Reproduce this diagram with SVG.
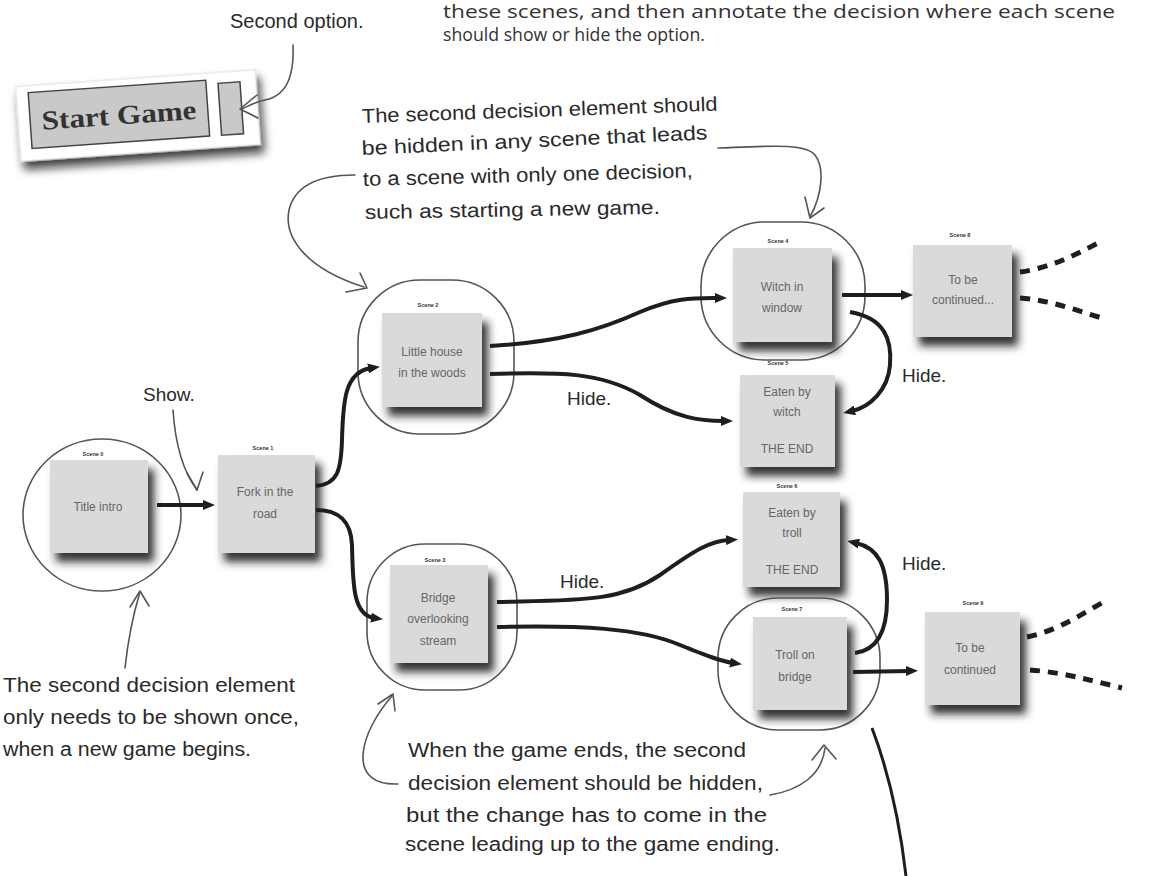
<svg xmlns="http://www.w3.org/2000/svg" width="1153" height="876" viewBox="0 0 1153 876">
<style>
.hand{font-family:"Liberation Sans","DejaVu Sans",sans-serif;fill:#2a2a2a;font-size:20px}
.hide{font-family:"Liberation Sans","DejaVu Sans",sans-serif;fill:#2a2a2a;font-size:19px}
.body{font-family:"Open Sans","Liberation Sans",sans-serif;fill:#333;font-size:18px}
.card{fill:#dadada;filter:url(#sh)}
.ctext{font-family:"Liberation Sans",sans-serif;fill:#666;font-size:12px;text-anchor:middle}
.lbl{font-family:"Liberation Sans",sans-serif;fill:#333;font-size:5.5px;font-weight:bold;text-anchor:middle}
.ring{fill:none;stroke:#555;stroke-width:1.6}
.conn{fill:none;stroke:#1e1e1e;stroke-width:4;marker-end:url(#ah)}
.dash{fill:none;stroke:#1e1e1e;stroke-width:5;stroke-dasharray:10 8}
.note{fill:none;stroke:#555;stroke-width:1.6;stroke-linecap:round;stroke-linejoin:round}
</style>
<defs>
<filter id="sh" x="-20%" y="-20%" width="150%" height="160%">
<feDropShadow dx="6" dy="9" stdDeviation="4.5" flood-color="#1a1a1a" flood-opacity="0.9"/>
</filter>
<filter id="psh" x="-20%" y="-30%" width="140%" height="180%">
<feDropShadow dx="3" dy="8" stdDeviation="5" flood-color="#111" flood-opacity="0.8"/>
</filter>
<marker id="ah" viewBox="0 0 12 10" refX="3" refY="5" markerWidth="12" markerHeight="10" markerUnits="userSpaceOnUse" orient="auto">
<path d="M0,0 L12,5 L0,10 z" fill="#1e1e1e"/>
</marker>
</defs>
<rect width="1153" height="876" fill="#fff"/>

<g id="intro-text">
<text class="body" x="443" y="18" textLength="672" lengthAdjust="spacingAndGlyphs">these scenes, and then annotate the decision where each scene</text>
<text class="body" x="443" y="41" textLength="262" lengthAdjust="spacingAndGlyphs">should show or hide the option.</text>
</g>

<g id="start-game-panel">
<g transform="rotate(-4 138 115)">
<rect x="18" y="78" width="240" height="75" fill="#fff" stroke="#ddd" stroke-width="1" filter="url(#psh)"/>
<rect x="30" y="85" width="178" height="56" fill="#c9c9c9" stroke="#444" stroke-width="1.5"/>
<rect x="220" y="89" width="22" height="52" fill="#c9c9c9" stroke="#444" stroke-width="1.5"/>
<text x="119" y="123" font-family="Liberation Serif,serif" font-weight="bold" font-size="27" fill="#333" text-anchor="middle" textLength="155" lengthAdjust="spacingAndGlyphs">Start Game</text>
</g>
<text class="hand" x="230" y="28" font-size="17">Second option.</text>
</g>

<g id="scene0">
<ellipse class="ring" cx="102" cy="515" rx="79" ry="76"/>
<rect class="card" x="50" y="460" width="98" height="93"/>
<text class="lbl" x="93" y="456">Scene 0</text>
<text class="ctext" x="98" y="511">Title intro</text>
</g>
<g id="scene1">
<rect class="card" x="218" y="455" width="97" height="98"/>
<text class="lbl" x="263" y="450">Scene 1</text>
<text class="ctext" x="265" y="496">Fork in the</text>
<text class="ctext" x="265" y="518">road</text>
</g>
<g id="scene2">
<rect class="ring" x="358" y="280" width="156" height="154" rx="62"/>
<rect class="card" x="382" y="313" width="100" height="94"/>
<text class="lbl" x="428" y="307">Scene 2</text>
<text class="ctext" x="432" y="356">Little house</text>
<text class="ctext" x="432" y="377">in the woods</text>
</g>
<g id="scene3">
<rect class="ring" x="367" y="544" width="150" height="146" rx="58"/>
<rect class="card" x="390" y="565" width="98" height="98"/>
<text class="lbl" x="435" y="562">Scene 3</text>
<text class="ctext" x="438" y="602">Bridge</text>
<text class="ctext" x="438" y="623">overlooking</text>
<text class="ctext" x="438" y="645">stream</text>
</g>
<g id="scene4">
<rect class="ring" x="701" y="222" width="164" height="138" rx="64"/>
<rect class="card" x="733" y="248" width="99" height="94"/>
<text class="lbl" x="778" y="243">Scene 4</text>
<text class="ctext" x="782" y="291">Witch in</text>
<text class="ctext" x="782" y="312">window</text>
</g>
<g id="scene5">
<rect class="card" x="740" y="375" width="95" height="92"/>
<text class="lbl" x="778" y="365">Scene 5</text>
<text class="ctext" x="787" y="396">Eaten by</text>
<text class="ctext" x="787" y="416">witch</text>
<text class="ctext" x="787" y="453">THE END</text>
</g>
<g id="scene6">
<rect class="card" x="743" y="492" width="97" height="95"/>
<text class="lbl" x="787" y="488">Scene 6</text>
<text class="ctext" x="792" y="517">Eaten by</text>
<text class="ctext" x="792" y="537">troll</text>
<text class="ctext" x="792" y="574">THE END</text>
</g>
<g id="scene7">
<rect class="ring" x="718" y="598" width="162" height="132" rx="60"/>
<rect class="card" x="753" y="617" width="94" height="93"/>
<text class="lbl" x="792" y="611">Scene 7</text>
<text class="ctext" x="795" y="659">Troll on</text>
<text class="ctext" x="795" y="681">bridge</text>
</g>
<g id="scene8">
<rect class="card" x="913" y="245" width="99" height="92"/>
<text class="lbl" x="960" y="237">Scene 8</text>
<text class="ctext" x="963" y="284">To be</text>
<text class="ctext" x="963" y="304">continued...</text>
</g>
<g id="scene9">
<rect class="card" x="925" y="612" width="95" height="93"/>
<text class="lbl" x="973" y="605">Scene 9</text>
<text class="ctext" x="970" y="652">To be</text>
<text class="ctext" x="970" y="674">continued</text>
</g>

<g id="connectors">
<path class="conn" d="M157,505 L206,505"/>
<path class="conn" d="M316,486 C338,484 341,470 342,440 C343,400 345,372 371,368"/>
<path class="conn" d="M316,510 C340,510 351,522 352,545 C353,580 352,615 374,618"/>
<path class="conn" d="M490,346 C560,342 600,330 640,312 C675,297 695,298 718,298"/>
<path class="conn" d="M490,374 C560,372 600,372 640,395 C675,418 700,421 724,421"/>
<path class="conn" d="M842,295 L904,295"/>
<path class="conn" d="M850,312 C885,318 892,340 890,365 C888,390 870,407 852,411"/>
<path class="conn" d="M497,602 C580,600 620,602 660,575 C695,550 710,541 729,540"/>
<path class="conn" d="M497,627 C580,625 640,628 680,645 C705,655 720,661 733,663"/>
<path class="conn" d="M853,672 L909,671"/>
<path class="conn" d="M855,653 C878,650 887,630 887,600 C887,565 878,548 856,543"/>
<path class="dash" d="M1020,272 C1050,268 1075,255 1100,242"/>
<path class="dash" d="M1020,298 C1050,300 1075,310 1102,318"/>
<path class="dash" d="M1027,637 C1060,630 1085,612 1107,600"/>
<path class="dash" d="M1030,670 C1060,672 1090,680 1122,688"/>
<path fill="none" stroke="#1e1e1e" stroke-width="3" d="M872,728 C886,765 899,815 906,876"/>
</g>

<g id="labels">
<text class="hide" x="567" y="405">Hide.</text>
<text class="hide" x="560" y="588">Hide.</text>
<text class="hide" x="902" y="382">Hide.</text>
<text class="hide" x="902" y="570">Hide.</text>
<text class="hide" x="143" y="401">Show.</text>
</g>

<g id="annotations">
<text class="hand" x="362" y="123" transform="rotate(-2 362 123)" textLength="356" lengthAdjust="spacingAndGlyphs">The second decision element should</text>
<text class="hand" x="362" y="155" transform="rotate(-2.6 362 155)" textLength="346" lengthAdjust="spacingAndGlyphs">be hidden in any scene that leads</text>
<text class="hand" x="363" y="186" transform="rotate(-1.5 363 186)" textLength="330" lengthAdjust="spacingAndGlyphs">to a scene with only one decision,</text>
<text class="hand" x="365" y="219" transform="rotate(-1 365 219)" textLength="295" lengthAdjust="spacingAndGlyphs">such as starting a new game.</text>

<text class="hand" x="3" y="692" textLength="292" lengthAdjust="spacingAndGlyphs">The second decision element</text>
<text class="hand" x="3" y="724" textLength="296" lengthAdjust="spacingAndGlyphs">only needs to be shown once,</text>
<text class="hand" x="3" y="756" textLength="248" lengthAdjust="spacingAndGlyphs">when a new game begins.</text>

<text class="hand" x="408" y="757" textLength="338" lengthAdjust="spacingAndGlyphs">When the game ends, the second</text>
<text class="hand" x="408" y="790" textLength="355" lengthAdjust="spacingAndGlyphs">decision element should be hidden,</text>
<text class="hand" x="406" y="822" textLength="361" lengthAdjust="spacingAndGlyphs">but the change has to come in the</text>
<text class="hand" x="405" y="851" textLength="375" lengthAdjust="spacingAndGlyphs">scene leading up to the game ending.</text>

<path class="note" d="M293,45 C294,70 290,95 265,100 C255,102 248,106 242,109"/>
<path class="note" d="M257,95 L240,109 L258,118"/>
<path class="note" d="M355,175 C320,175 295,185 289,210 C283,240 310,270 364,287"/>
<path class="note" d="M360,273 L367,288 L346,292"/>
<path class="note" d="M718,148 C770,146 805,143 815,155 C825,168 822,195 810,217"/>
<path class="note" d="M805,197 L810,218 L824,208"/>
<path class="note" d="M173,410 C175,440 182,470 197,490"/>
<path class="note" d="M187,473 L197,490 L203,472"/>
<path class="note" d="M125,668 C128,640 133,615 140,592"/>
<path class="note" d="M130,607 L140,591 L149,606"/>
<path class="note" d="M398,784 C375,785 362,775 363,755 C364,735 378,712 392,696"/>
<path class="note" d="M378,704 L393,694 L395,711"/>
<path class="note" d="M770,795 C800,790 822,775 825,748"/>
<path class="note" d="M812,760 L824,745 L836,759"/>
</g>
</svg>
